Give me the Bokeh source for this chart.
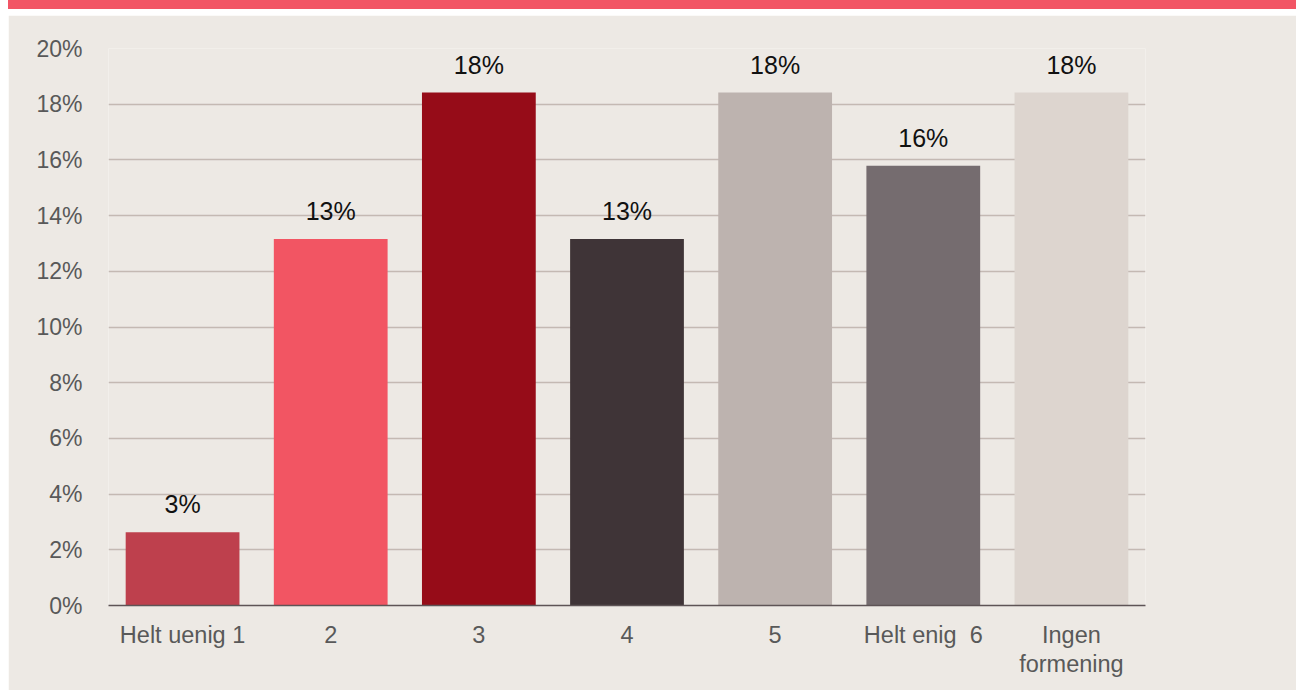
from bokeh.plotting import figure
from bokeh.models import ColumnDataSource, FactorRange, Range1d, FixedTicker, PrintfTickFormatter, Div, Spacer
from bokeh.layouts import column, row
from bokeh.core.properties import value
from bokeh.embed import file_html
from bokeh.resources import INLINE

categories = ["Helt uenig 1", "2", "3", "4", "5", "Helt enig \u00a06", "Ingen\nformening"]
shares = [2.63, 13.16, 18.42, 13.16, 18.42, 15.79, 18.42]
share_labels = ["3%", "13%", "18%", "13%", "18%", "16%", "18%"]
bar_colors = ["#BE404D", "#F25563", "#960C18", "#3F3437", "#BDB3AF", "#756C6F", "#DDD5CF"]
y_ticks = [0, 2, 4, 6, 8, 10, 12, 14, 16, 18, 20]

BG = "#EDE9E4"
FONT = "Liberation Sans"

source = ColumnDataSource(dict(cat=categories, val=shares, lab=share_labels, col=bar_colors))

p = figure(
    x_range=FactorRange(*categories),
    y_range=Range1d(0, 20),
    width=1288, height=675,
    output_backend="svg", toolbar_location=None,
    min_border_left=100, min_border_right=151,
    min_border_top=33, min_border_bottom=85,
    background_fill_color=BG, border_fill_color=BG,
)
p.outline_line_color = None

p.vbar(x="cat", top="val", width=0.768, color="col", source=source, line_color=None)

p.text(x="cat", y="val", text="lab", source=source,
       text_align="center", text_baseline="alphabetic", y_offset=-28,
       text_font=value(FONT), text_font_size="25px", text_color="#111111")

p.xgrid.grid_line_color = None
p.ygrid.grid_line_color = "#C4B9B3"
p.ygrid.grid_line_width = 1.3
p.ygrid.ticker = FixedTicker(ticks=y_ticks[1:])

p.yaxis.ticker = FixedTicker(ticks=y_ticks)
p.yaxis.formatter = PrintfTickFormatter(format="%d%%")
p.yaxis.axis_line_color = None
p.yaxis.major_tick_line_color = None
p.yaxis.minor_tick_line_color = None
p.yaxis.major_label_standoff = 20
p.yaxis.major_label_text_font = FONT
p.yaxis.major_label_text_font_size = "23px"
p.yaxis.major_label_text_color = "#595959"

p.xaxis.axis_line_color = "#5E5456"
p.xaxis.axis_line_width = 1.6
p.xaxis.major_tick_line_color = None
p.xaxis.minor_tick_line_color = None
p.xaxis.major_label_standoff = 10
p.xaxis.major_label_text_font = FONT
p.xaxis.major_label_text_font_size = "23.5px"
p.xaxis.major_label_text_color = "#595959"
p.xaxis.major_label_text_line_height = 1.12

band = Div(text="", width=1288, height=9, styles={"background-color": "#F25565"}, margin=0)
gap = Spacer(width=1288, height=6, margin=0)
left_pad = Spacer(width=8, height=690, margin=0)

layout = row(left_pad, column(band, gap, p, spacing=0), spacing=0)

open("out.html", "w").write(file_html(layout, INLINE))
